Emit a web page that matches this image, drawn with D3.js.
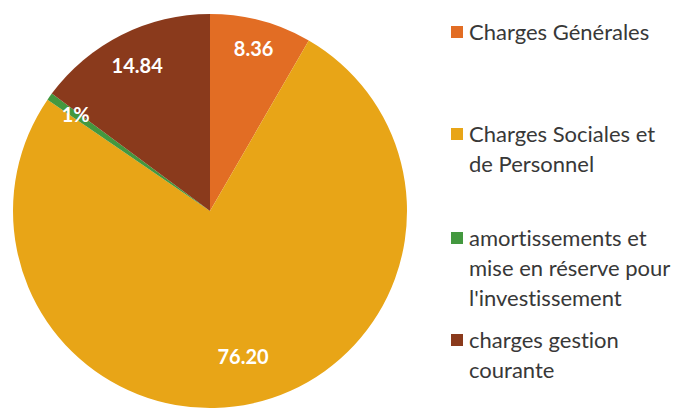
<!DOCTYPE html>
<html>
<head>
<meta charset="utf-8">
<script src="https://cdn.jsdelivr.net/npm/d3@7"></script>
<style>
  body { margin: 0; background: #fff; }
  svg { display: block; }
  text { font-variant-ligatures: none; }
</style>
</head>
<body>
<svg id="chart" width="678" height="410"></svg>
<script>
// data
const categories = ["Charges Générales", "Charges Sociales et de Personnel", "amortissements et mise en réserve pour l'investissement", "charges gestion courante"];
const values = [8.36, 76.20, 0.60, 14.84];
const valueLabels = ["8.36", "76.20", "1%", "14.84"];
// legend text, wrapped like the original
const legendLines = [
  ["Charges Générales"],
  ["Charges Sociales et", "de Personnel"],
  ["amortissements et", "mise en réserve pour", "l'investissement"],
  ["charges gestion", "courante"]
];

const colors = ["#e26d24", "#e8a517", "#43983f", "#8a3a1c"];

const svg = d3.select("#chart");
const cx = 210, cy = 211, radius = 197;

const color = d3.scaleOrdinal().domain(categories).range(colors);

const pie = d3.pie().sort(null).value(d => d.value);
const arcs = pie(categories.map((c, i) => ({ name: c, value: values[i], label: valueLabels[i] })));

const arc = d3.arc().innerRadius(0).outerRadius(radius);

const g = svg.append("g").attr("transform", "translate(" + cx + "," + cy + ")");

g.selectAll("path")
  .data(arcs)
  .enter().append("path")
  .attr("d", arc)
  .attr("fill", d => color(d.data.name));

// labels sit at slightly different distances in the original
const labelRadius = [168, 150, 165, 162];
g.selectAll("text.val")
  .data(arcs)
  .enter().append("text")
  .attr("class", "val")
  .attr("x", (d, i) => Math.sin((d.startAngle + d.endAngle) / 2) * labelRadius[i])
  .attr("y", (d, i) => -Math.cos((d.startAngle + d.endAngle) / 2) * labelRadius[i])
  .attr("dy", "0.35em")
  .attr("text-anchor", "middle")
  .attr("fill", "#fff")
  .attr("font-family", "Lato, 'Open Sans', sans-serif")
  .attr("font-weight", "bold")
  .attr("font-size", 20)
  .text(d => d.data.label);

// legend
const legendY = [32, 134, 238, 340];
const legend = svg.append("g").attr("font-family", "Lato, 'Open Sans', sans-serif").attr("font-size", 22).attr("fill", "#383838");

categories.forEach((c, i) => {
  const item = legend.append("g").attr("transform", "translate(451," + legendY[i] + ")");
  item.append("rect")
    .attr("x", 0).attr("y", -6)
    .attr("width", 12).attr("height", 12)
    .attr("fill", color(c));
  legendLines[i].forEach((line, j) => {
    item.append("text")
      .attr("x", 18)
      .attr("y", j * 30)
      .attr("dy", "0.35em")
      .text(line);
  });
});
</script>
</body>
</html>
